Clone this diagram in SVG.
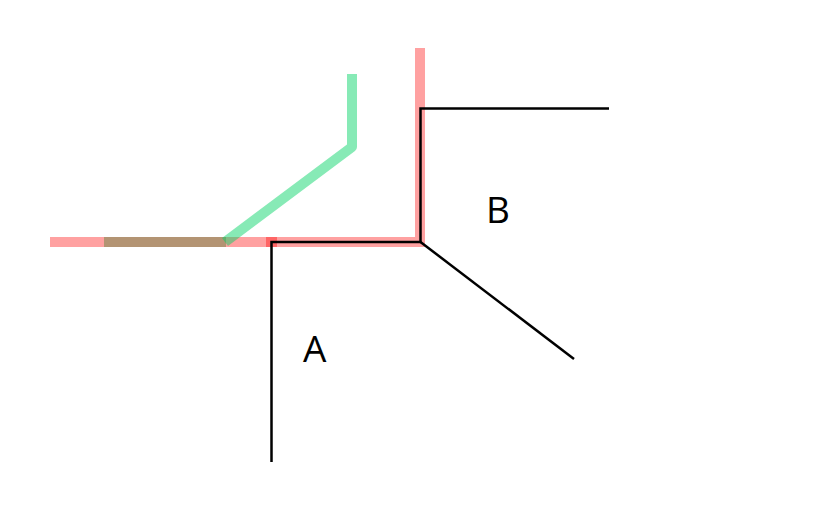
<svg xmlns="http://www.w3.org/2000/svg" width="827" height="525" viewBox="0 0 827 525">
<style>
.red{fill:none;stroke:#ff0000;stroke-opacity:0.37;stroke-width:10;stroke-linecap:butt;stroke-linejoin:miter}
.green{fill:none;stroke:rgb(0,210,100);stroke-opacity:0.47;stroke-width:10;stroke-linecap:butt;stroke-linejoin:round}
.edge{fill:none;stroke:#000;stroke-width:2.5;stroke-linejoin:miter}
.lbl{font-family:"Open Sans","DejaVu Sans",sans-serif;font-size:37px;fill:#000}
</style>
<rect width="827" height="525" fill="#fff"/>
<g id="connectors">
<path class="green" d="M104,242 H226"/>
<path class="red" d="M50,242 H277"/>
<path class="red" d="M266,242 H420 V48"/>
<path class="green" d="M225,242 L352,147 V74"/>
<path class="edge" d="M271.5,462 V242 H420.5 V108.5 H609"/>
<path class="edge" d="M420.5,242 L574,359"/>
</g>
<g id="A"><text class="lbl" x="303" y="362">A</text></g>
<g id="B"><text class="lbl" x="486" y="223">B</text></g>
</svg>
